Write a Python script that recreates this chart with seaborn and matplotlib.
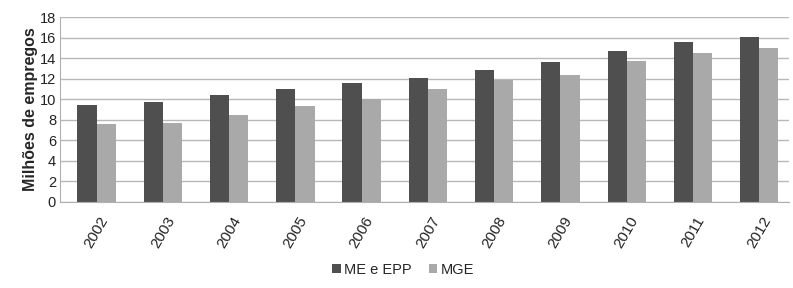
import pandas as pd
import matplotlib
matplotlib.use("Agg")
import matplotlib.pyplot as plt
import seaborn as sns

YEARS = ["2002", "2003", "2004", "2005", "2006", "2007", "2008", "2009", "2010", "2011", "2012"]
ME_EPP = [9.4, 9.7, 10.4, 11.0, 11.6, 12.1, 12.9, 13.6, 14.7, 15.6, 16.1]
MGE = [7.6, 7.7, 8.5, 9.3, 10.0, 11.0, 11.9, 12.4, 13.7, 14.5, 15.0]
SERIES = ["ME e EPP", "MGE"]
COLORS = ["#4f4f4f", "#a9a9a9"]

df = pd.DataFrame({
    "ano": YEARS * 2,
    "valor": ME_EPP + MGE,
    "serie": [SERIES[0]] * len(YEARS) + [SERIES[1]] * len(YEARS),
})

sns.set_style("white")
plt.rcParams["font.family"] = ["Liberation Sans", "DejaVu Sans"]

fig, ax = plt.subplots(figsize=(7.93, 2.88), dpi=100)
sns.barplot(data=df, x="ano", y="valor", hue="serie", palette=COLORS,
            width=0.58, gap=0, saturation=1, linewidth=0, ax=ax, legend=True)

ax.set_ylim(0, 18)
ax.set_yticks(range(0, 19, 2))
ax.set_xlim(-0.55, len(YEARS) - 0.55)
ax.yaxis.grid(True, color="#b8b8b8", linewidth=1)
ax.set_axisbelow(True)
for s in ["top", "right"]:
    ax.spines[s].set_visible(False)
ax.spines["left"].set_color("#b0b0b0")
ax.spines["bottom"].set_color("#b0b0b0")

ax.set_xlabel("")
ax.set_ylabel("Milhões de empregos", fontsize=11.5, fontweight="bold", labelpad=1)
ax.tick_params(axis="y", labelsize=10.5, length=0, pad=3, colors="#222222")
ax.tick_params(axis="x", labelsize=11, length=0, pad=9, colors="#222222")
plt.setp(ax.get_xticklabels(), rotation=60, ha="center", va="top")

ax.legend(loc="center", bbox_to_anchor=(0.47, -0.37), ncol=2, frameon=False,
          fontsize=10.5, handlelength=0.6, handleheight=0.6, handletextpad=0.2,
          columnspacing=1.2)

fig.subplots_adjust(left=0.076, right=0.995, top=0.94, bottom=0.30)
fig.savefig("out.png", dpi=100)
